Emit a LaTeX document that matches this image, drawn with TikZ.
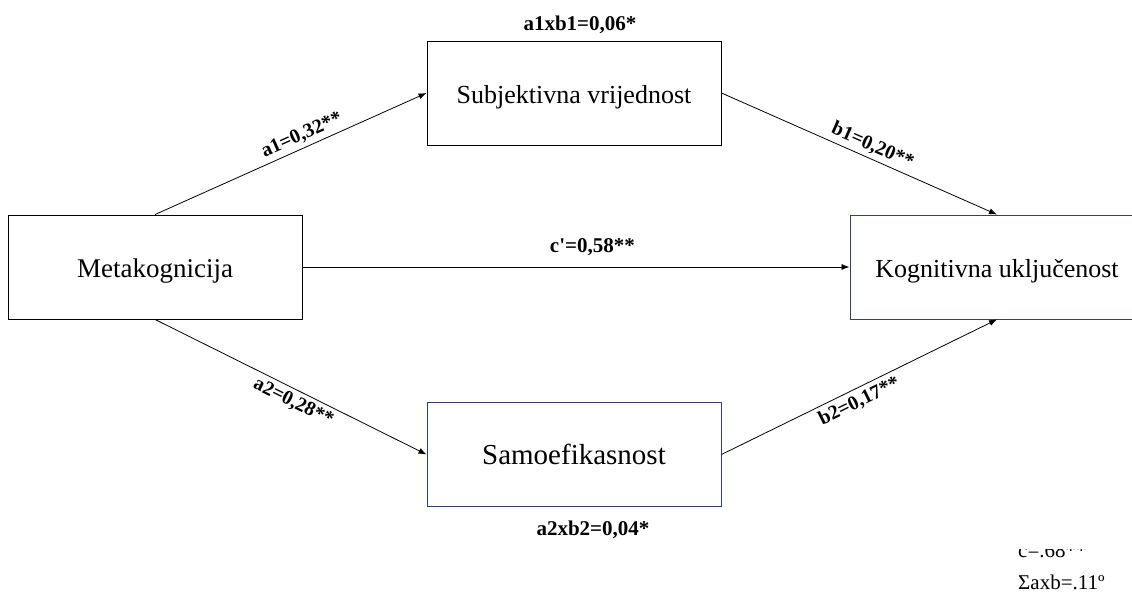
\documentclass[tikz,border=0pt]{standalone}
\usepackage{fontspec}
\setmainfont{Liberation Serif}
\usetikzlibrary{arrows.meta}
\definecolor{boxblue}{RGB}{47,64,120}
\begin{document}
\begin{tikzpicture}[x=1pt,y=-1pt,
 box/.style={draw, line width=0.9pt, minimum width=294pt, minimum height=104pt, inner sep=0pt, text height=22pt, text depth=2pt, font=\fontsize{26}{30}\selectfont},
 bluebox/.style={box, draw=boxblue},
 conn/.style={-{Latex[length=8pt,width=6pt]}, line width=0.8pt},
 lab/.style={font=\bfseries\fontsize{21}{24}\selectfont, inner sep=0pt, anchor=base},
 slab/.style={font=\bfseries\fontsize{20}{24}\selectfont, inner sep=4pt, sloped},
 note/.style={font=\fontsize{21}{24}\selectfont, inner sep=0pt, anchor=base west}
]
\useasboundingbox (0,0) rectangle (1132,594);
\node[box, font=\fontsize{27}{30}\selectfont] (meta) at (155,267) {Metakognicija};
\node[box] (subj) at (574,93) {Subjektivna vrijednost};
\node[bluebox] (kog) at (997,267) {Kognitivna uključenost};
\node[bluebox, font=\fontsize{29}{32}\selectfont] (samo) at (574,454.5) {Samoefikasnost};
\node[lab] (ab1) at (580,31) {a1xb1=0,06*};
\node[lab] (ab2) at (593,535) {a2xb2=0,04*};
\draw[conn] (meta.north) -- node[slab, above, pos=0.56] (la1) {a1=0,32**} (subj.west);
\draw[conn] (subj.east) -- node[slab, above, pos=0.53] (lb1) {b1=0,20**} (kog.north);
\draw[conn] (meta.east) -- node[lab, pos=0.53, yshift=15pt] (lc) {c\textquotesingle=0,58**} (kog.west);
\draw[conn] (meta.south) -- node[slab, below, pos=0.53] (la2) {a2=0,28**} (samo.west);
\draw[conn] (samo.east) -- node[slab, below, pos=0.48] (lb2) {b2=0,17**} (kog.south);
\begin{scope}
\clip (1000,549) rectangle (1132,570);
\node[note] (c) at (1018,557) {c=.68**};
\end{scope}
\node[note] (sum) at (1018,589) {Σaxb=.11º};
\end{tikzpicture}
\end{document}
